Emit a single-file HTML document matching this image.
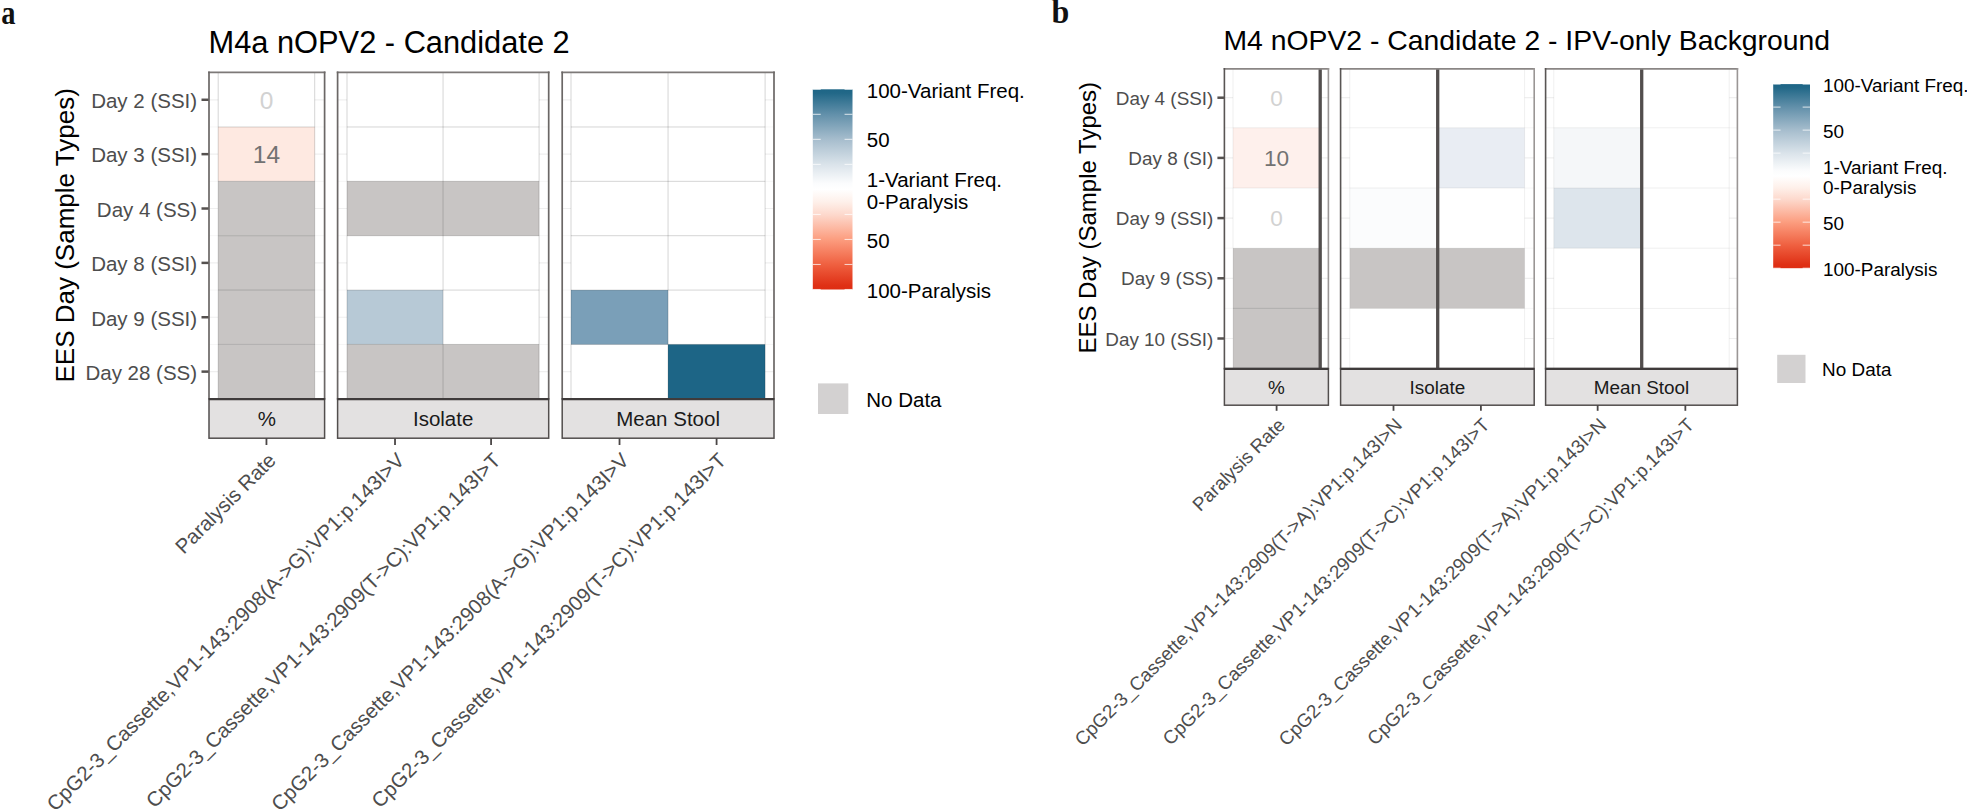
<!DOCTYPE html>
<html lang="en">
<head>
<meta charset="utf-8">
<title>nOPV2 Candidate 2 heatmaps</title>
<style>
html,body{margin:0;padding:0;background:#fff;}
body{width:1967px;height:812px;overflow:hidden;}
svg{display:block;}
svg text{font-family:'Liberation Sans', Arial, sans-serif;}
</style>
</head>
<body>
<svg width="1967" height="812" viewBox="0 0 1967 812">
<rect width="1967" height="812" fill="#ffffff"/>
<text transform="translate(1.3,24.2) scale(0.89,1.03)" style="font-family:'Liberation Serif', 'Times New Roman', serif;font-weight:bold" font-size="32" fill="#111">a</text>
<text transform="translate(1051.6,23.3) scale(1.0,1.07)" style="font-family:'Liberation Serif', 'Times New Roman', serif;font-weight:bold" font-size="32" fill="#111">b</text>
<text x="208.5" y="53.1" font-size="30.8" fill="#000">M4a nOPV2 - Candidate 2</text>
<text transform="translate(74.2,235.35000000000002) rotate(-90)" text-anchor="middle" font-size="26.0" fill="#000">EES Day (Sample Types)</text>
<text x="197.1" y="108.06" text-anchor="end" font-size="20.5" fill="#4d4d4d">Day 2 (SSI)</text>
<line x1="201.5" x2="209" y1="99.78" y2="99.78" stroke="#55514f" stroke-width="2.5"/>
<text x="197.1" y="162.43" text-anchor="end" font-size="20.5" fill="#4d4d4d">Day 3 (SSI)</text>
<line x1="201.5" x2="209" y1="154.15" y2="154.15" stroke="#55514f" stroke-width="2.5"/>
<text x="197.1" y="216.79" text-anchor="end" font-size="20.5" fill="#4d4d4d">Day 4 (SS)</text>
<line x1="201.5" x2="209" y1="208.52" y2="208.52" stroke="#55514f" stroke-width="2.5"/>
<text x="197.1" y="271.16" text-anchor="end" font-size="20.5" fill="#4d4d4d">Day 8 (SSI)</text>
<line x1="201.5" x2="209" y1="262.88" y2="262.88" stroke="#55514f" stroke-width="2.5"/>
<text x="197.1" y="325.53" text-anchor="end" font-size="20.5" fill="#4d4d4d">Day 9 (SSI)</text>
<line x1="201.5" x2="209" y1="317.25" y2="317.25" stroke="#55514f" stroke-width="2.5"/>
<text x="197.1" y="379.89" text-anchor="end" font-size="20.5" fill="#4d4d4d">Day 28 (SS)</text>
<line x1="201.5" x2="209" y1="371.62" y2="371.62" stroke="#55514f" stroke-width="2.5"/>
<rect x="209" y="72.3" width="115.60000000000002" height="326.5" fill="#fff"/>
<line x1="209" x2="324.6" y1="99.78" y2="99.78" stroke="#efefef" stroke-width="1.2"/>
<line x1="209" x2="324.6" y1="154.15" y2="154.15" stroke="#efefef" stroke-width="1.2"/>
<line x1="209" x2="324.6" y1="208.52" y2="208.52" stroke="#efefef" stroke-width="1.2"/>
<line x1="209" x2="324.6" y1="262.88" y2="262.88" stroke="#efefef" stroke-width="1.2"/>
<line x1="209" x2="324.6" y1="317.25" y2="317.25" stroke="#efefef" stroke-width="1.2"/>
<line x1="209" x2="324.6" y1="371.62" y2="371.62" stroke="#efefef" stroke-width="1.2"/>
<line x1="209" x2="324.6" y1="126.97" y2="126.97" stroke="#f6f6f6" stroke-width="1"/>
<line x1="209" x2="324.6" y1="181.33" y2="181.33" stroke="#f6f6f6" stroke-width="1"/>
<line x1="209" x2="324.6" y1="235.70" y2="235.70" stroke="#f6f6f6" stroke-width="1"/>
<line x1="209" x2="324.6" y1="290.07" y2="290.07" stroke="#f6f6f6" stroke-width="1"/>
<line x1="209" x2="324.6" y1="344.43" y2="344.43" stroke="#f6f6f6" stroke-width="1"/>
<rect x="218.2" y="72.3" width="96.5" height="326.5" fill="#fff"/>
<rect x="218.20" y="126.97" width="96.50" height="54.37" fill="#fee9e1" stroke="none" stroke-width="1"/>
<rect x="218.20" y="181.33" width="96.50" height="54.37" fill="#c8c5c4" stroke="none" stroke-width="1"/>
<rect x="218.20" y="235.70" width="96.50" height="54.37" fill="#c8c5c4" stroke="none" stroke-width="1"/>
<rect x="218.20" y="290.07" width="96.50" height="54.37" fill="#c8c5c4" stroke="none" stroke-width="1"/>
<rect x="218.20" y="344.43" width="96.50" height="54.37" fill="#c8c5c4" stroke="none" stroke-width="1"/>
<line x1="218.2" x2="314.7" y1="126.97" y2="126.97" stroke="#000" stroke-opacity="0.19" stroke-width="0.9"/>
<line x1="218.2" x2="314.7" y1="181.33" y2="181.33" stroke="#000" stroke-opacity="0.19" stroke-width="0.9"/>
<line x1="218.2" x2="314.7" y1="235.70" y2="235.70" stroke="#000" stroke-opacity="0.19" stroke-width="0.9"/>
<line x1="218.2" x2="314.7" y1="290.07" y2="290.07" stroke="#000" stroke-opacity="0.19" stroke-width="0.9"/>
<line x1="218.2" x2="314.7" y1="344.43" y2="344.43" stroke="#000" stroke-opacity="0.19" stroke-width="0.9"/>
<line x1="218.20" x2="218.20" y1="72.3" y2="398.8" stroke="#000" stroke-opacity="0.19" stroke-width="0.9"/>
<line x1="314.70" x2="314.70" y1="72.3" y2="398.8" stroke="#000" stroke-opacity="0.19" stroke-width="0.9"/>
<text x="266.45" y="108.60" text-anchor="middle" font-size="24.5" fill="#d2d2d2">0</text>
<text x="266.45" y="162.97" text-anchor="middle" font-size="24.5" fill="#727272">14</text>
<line x1="209" x2="324.6" y1="72.3" y2="72.3" stroke="#7d7978" stroke-width="1.7" stroke-linecap="square"/>
<line x1="324.6" x2="324.6" y1="72.3" y2="398.8" stroke="#6b6766" stroke-width="1.7" stroke-linecap="square"/>
<line x1="209" x2="209" y1="72.3" y2="398.8" stroke="#6b6766" stroke-width="1.7" stroke-linecap="square"/>
<rect x="209" y="398.8" width="115.60000000000002" height="39.39999999999998" fill="#e3e1e1" stroke="#524e4d" stroke-width="1.5"/>
<line x1="209" x2="324.6" y1="399.1" y2="399.1" stroke="#3f3b3b" stroke-width="2.4"/>
<text x="266.8" y="425.78" text-anchor="middle" font-size="20.5" fill="#1a1a1a">%</text>
<line x1="266.45" x2="266.45" y1="438.2" y2="445.0" stroke="#4a4646" stroke-width="1.8"/>
<text transform="translate(277.15,461.60) rotate(-45)" text-anchor="end" font-size="20.5" fill="#4d4d4d">Paralysis Rate</text>
<rect x="337.6" y="72.3" width="211.10000000000002" height="326.5" fill="#fff"/>
<line x1="337.6" x2="548.7" y1="99.78" y2="99.78" stroke="#efefef" stroke-width="1.2"/>
<line x1="337.6" x2="548.7" y1="154.15" y2="154.15" stroke="#efefef" stroke-width="1.2"/>
<line x1="337.6" x2="548.7" y1="208.52" y2="208.52" stroke="#efefef" stroke-width="1.2"/>
<line x1="337.6" x2="548.7" y1="262.88" y2="262.88" stroke="#efefef" stroke-width="1.2"/>
<line x1="337.6" x2="548.7" y1="317.25" y2="317.25" stroke="#efefef" stroke-width="1.2"/>
<line x1="337.6" x2="548.7" y1="371.62" y2="371.62" stroke="#efefef" stroke-width="1.2"/>
<line x1="337.6" x2="548.7" y1="126.97" y2="126.97" stroke="#f6f6f6" stroke-width="1"/>
<line x1="337.6" x2="548.7" y1="181.33" y2="181.33" stroke="#f6f6f6" stroke-width="1"/>
<line x1="337.6" x2="548.7" y1="235.70" y2="235.70" stroke="#f6f6f6" stroke-width="1"/>
<line x1="337.6" x2="548.7" y1="290.07" y2="290.07" stroke="#f6f6f6" stroke-width="1"/>
<line x1="337.6" x2="548.7" y1="344.43" y2="344.43" stroke="#f6f6f6" stroke-width="1"/>
<rect x="347" y="72.3" width="192.10000000000002" height="326.5" fill="#fff"/>
<rect x="347.00" y="181.33" width="96.05" height="54.37" fill="#c8c5c4" stroke="none" stroke-width="1"/>
<rect x="443.05" y="181.33" width="96.05" height="54.37" fill="#c8c5c4" stroke="none" stroke-width="1"/>
<rect x="347.00" y="290.07" width="96.05" height="54.37" fill="#b7c9d6" stroke="none" stroke-width="1"/>
<rect x="347.00" y="344.43" width="96.05" height="54.37" fill="#c8c5c4" stroke="none" stroke-width="1"/>
<rect x="443.05" y="344.43" width="96.05" height="54.37" fill="#c8c5c4" stroke="none" stroke-width="1"/>
<line x1="347" x2="539.1" y1="126.97" y2="126.97" stroke="#000" stroke-opacity="0.19" stroke-width="0.9"/>
<line x1="347" x2="539.1" y1="181.33" y2="181.33" stroke="#000" stroke-opacity="0.19" stroke-width="0.9"/>
<line x1="347" x2="539.1" y1="235.70" y2="235.70" stroke="#000" stroke-opacity="0.19" stroke-width="0.9"/>
<line x1="347" x2="539.1" y1="290.07" y2="290.07" stroke="#000" stroke-opacity="0.19" stroke-width="0.9"/>
<line x1="347" x2="539.1" y1="344.43" y2="344.43" stroke="#000" stroke-opacity="0.19" stroke-width="0.9"/>
<line x1="347.00" x2="347.00" y1="72.3" y2="398.8" stroke="#000" stroke-opacity="0.19" stroke-width="0.9"/>
<line x1="443.05" x2="443.05" y1="72.3" y2="398.8" stroke="#000" stroke-opacity="0.19" stroke-width="0.9"/>
<line x1="539.10" x2="539.10" y1="72.3" y2="398.8" stroke="#000" stroke-opacity="0.19" stroke-width="0.9"/>
<line x1="337.6" x2="548.7" y1="72.3" y2="72.3" stroke="#7d7978" stroke-width="1.7" stroke-linecap="square"/>
<line x1="548.7" x2="548.7" y1="72.3" y2="398.8" stroke="#6b6766" stroke-width="1.7" stroke-linecap="square"/>
<line x1="337.6" x2="337.6" y1="72.3" y2="398.8" stroke="#6b6766" stroke-width="1.7" stroke-linecap="square"/>
<rect x="337.6" y="398.8" width="211.10000000000002" height="39.39999999999998" fill="#e3e1e1" stroke="#524e4d" stroke-width="1.5"/>
<line x1="337.6" x2="548.7" y1="399.1" y2="399.1" stroke="#3f3b3b" stroke-width="2.4"/>
<text x="443.15000000000003" y="425.78" text-anchor="middle" font-size="20.5" fill="#1a1a1a">Isolate</text>
<line x1="395.02" x2="395.02" y1="438.2" y2="445.0" stroke="#4a4646" stroke-width="1.8"/>
<text transform="translate(405.72,461.60) rotate(-45)" text-anchor="end" font-size="20.5" fill="#4d4d4d">CpG2-3_Cassette,VP1-143:2908(A-&gt;G):VP1:p.143I&gt;V</text>
<line x1="491.08" x2="491.08" y1="438.2" y2="445.0" stroke="#4a4646" stroke-width="1.8"/>
<text transform="translate(501.78,461.60) rotate(-45)" text-anchor="end" font-size="20.5" fill="#4d4d4d">CpG2-3_Cassette,VP1-143:2909(T-&gt;C):VP1:p.143I&gt;T</text>
<rect x="562.2" y="72.3" width="211.79999999999995" height="326.5" fill="#fff"/>
<line x1="562.2" x2="774" y1="99.78" y2="99.78" stroke="#efefef" stroke-width="1.2"/>
<line x1="562.2" x2="774" y1="154.15" y2="154.15" stroke="#efefef" stroke-width="1.2"/>
<line x1="562.2" x2="774" y1="208.52" y2="208.52" stroke="#efefef" stroke-width="1.2"/>
<line x1="562.2" x2="774" y1="262.88" y2="262.88" stroke="#efefef" stroke-width="1.2"/>
<line x1="562.2" x2="774" y1="317.25" y2="317.25" stroke="#efefef" stroke-width="1.2"/>
<line x1="562.2" x2="774" y1="371.62" y2="371.62" stroke="#efefef" stroke-width="1.2"/>
<line x1="562.2" x2="774" y1="126.97" y2="126.97" stroke="#f6f6f6" stroke-width="1"/>
<line x1="562.2" x2="774" y1="181.33" y2="181.33" stroke="#f6f6f6" stroke-width="1"/>
<line x1="562.2" x2="774" y1="235.70" y2="235.70" stroke="#f6f6f6" stroke-width="1"/>
<line x1="562.2" x2="774" y1="290.07" y2="290.07" stroke="#f6f6f6" stroke-width="1"/>
<line x1="562.2" x2="774" y1="344.43" y2="344.43" stroke="#f6f6f6" stroke-width="1"/>
<rect x="571" y="72.3" width="194.10000000000002" height="326.5" fill="#fff"/>
<rect x="571.00" y="290.07" width="97.05" height="54.37" fill="#7a9fb8" stroke="none" stroke-width="1"/>
<rect x="668.05" y="344.43" width="97.05" height="54.37" fill="#1d6586" stroke="none" stroke-width="1"/>
<line x1="571" x2="765.1" y1="126.97" y2="126.97" stroke="#000" stroke-opacity="0.19" stroke-width="0.9"/>
<line x1="571" x2="765.1" y1="181.33" y2="181.33" stroke="#000" stroke-opacity="0.19" stroke-width="0.9"/>
<line x1="571" x2="765.1" y1="235.70" y2="235.70" stroke="#000" stroke-opacity="0.19" stroke-width="0.9"/>
<line x1="571" x2="765.1" y1="290.07" y2="290.07" stroke="#000" stroke-opacity="0.19" stroke-width="0.9"/>
<line x1="571" x2="765.1" y1="344.43" y2="344.43" stroke="#000" stroke-opacity="0.19" stroke-width="0.9"/>
<line x1="571.00" x2="571.00" y1="72.3" y2="398.8" stroke="#000" stroke-opacity="0.19" stroke-width="0.9"/>
<line x1="668.05" x2="668.05" y1="72.3" y2="398.8" stroke="#000" stroke-opacity="0.19" stroke-width="0.9"/>
<line x1="765.10" x2="765.10" y1="72.3" y2="398.8" stroke="#000" stroke-opacity="0.19" stroke-width="0.9"/>
<line x1="562.2" x2="774" y1="72.3" y2="72.3" stroke="#7d7978" stroke-width="1.7" stroke-linecap="square"/>
<line x1="774" x2="774" y1="72.3" y2="398.8" stroke="#6b6766" stroke-width="1.7" stroke-linecap="square"/>
<line x1="562.2" x2="562.2" y1="72.3" y2="398.8" stroke="#6b6766" stroke-width="1.7" stroke-linecap="square"/>
<rect x="562.2" y="398.8" width="211.79999999999995" height="39.39999999999998" fill="#e3e1e1" stroke="#524e4d" stroke-width="1.5"/>
<line x1="562.2" x2="774" y1="399.1" y2="399.1" stroke="#3f3b3b" stroke-width="2.4"/>
<text x="668.1" y="425.78" text-anchor="middle" font-size="20.5" fill="#1a1a1a">Mean Stool</text>
<line x1="619.52" x2="619.52" y1="438.2" y2="445.0" stroke="#4a4646" stroke-width="1.8"/>
<text transform="translate(630.23,461.60) rotate(-45)" text-anchor="end" font-size="20.5" fill="#4d4d4d">CpG2-3_Cassette,VP1-143:2908(A-&gt;G):VP1:p.143I&gt;V</text>
<line x1="716.58" x2="716.58" y1="438.2" y2="445.0" stroke="#4a4646" stroke-width="1.8"/>
<text transform="translate(727.28,461.60) rotate(-45)" text-anchor="end" font-size="20.5" fill="#4d4d4d">CpG2-3_Cassette,VP1-143:2909(T-&gt;C):VP1:p.143I&gt;T</text>
<defs><linearGradient id="ga" x1="0" y1="0" x2="0" y2="1"><stop offset="0" stop-color="#1d6586"/><stop offset="0.02" stop-color="#226888"/><stop offset="0.125" stop-color="#6290aa"/><stop offset="0.25" stop-color="#a6bdcd"/><stop offset="0.375" stop-color="#dae3ea"/><stop offset="0.47" stop-color="#fbfcfd"/><stop offset="0.5" stop-color="#ffffff"/><stop offset="0.5625" stop-color="#fef0ea"/><stop offset="0.625" stop-color="#fdd9cd"/><stop offset="0.75" stop-color="#fc9d7f"/><stop offset="0.875" stop-color="#ef6040"/><stop offset="0.98" stop-color="#df3015"/><stop offset="1" stop-color="#de2d12"/></linearGradient></defs>
<rect x="812.8" y="89.3" width="39.700000000000045" height="200.2" fill="url(#ga)"/>
<line x1="812.8" x2="820.74" y1="89.30" y2="89.30" stroke="#fff" stroke-opacity="0.7" stroke-width="1.1"/>
<line x1="844.56" x2="852.5" y1="89.30" y2="89.30" stroke="#fff" stroke-opacity="0.7" stroke-width="1.1"/>
<line x1="812.8" x2="820.74" y1="114.32" y2="114.32" stroke="#fff" stroke-opacity="0.7" stroke-width="1.1"/>
<line x1="844.56" x2="852.5" y1="114.32" y2="114.32" stroke="#fff" stroke-opacity="0.7" stroke-width="1.1"/>
<line x1="812.8" x2="820.74" y1="139.35" y2="139.35" stroke="#fff" stroke-opacity="0.7" stroke-width="1.1"/>
<line x1="844.56" x2="852.5" y1="139.35" y2="139.35" stroke="#fff" stroke-opacity="0.7" stroke-width="1.1"/>
<line x1="812.8" x2="820.74" y1="164.38" y2="164.38" stroke="#fff" stroke-opacity="0.7" stroke-width="1.1"/>
<line x1="844.56" x2="852.5" y1="164.38" y2="164.38" stroke="#fff" stroke-opacity="0.7" stroke-width="1.1"/>
<line x1="812.8" x2="820.74" y1="189.40" y2="189.40" stroke="#fff" stroke-opacity="0.7" stroke-width="1.1"/>
<line x1="844.56" x2="852.5" y1="189.40" y2="189.40" stroke="#fff" stroke-opacity="0.7" stroke-width="1.1"/>
<line x1="812.8" x2="820.74" y1="214.43" y2="214.43" stroke="#fff" stroke-opacity="0.7" stroke-width="1.1"/>
<line x1="844.56" x2="852.5" y1="214.43" y2="214.43" stroke="#fff" stroke-opacity="0.7" stroke-width="1.1"/>
<line x1="812.8" x2="820.74" y1="239.45" y2="239.45" stroke="#fff" stroke-opacity="0.7" stroke-width="1.1"/>
<line x1="844.56" x2="852.5" y1="239.45" y2="239.45" stroke="#fff" stroke-opacity="0.7" stroke-width="1.1"/>
<line x1="812.8" x2="820.74" y1="264.47" y2="264.47" stroke="#fff" stroke-opacity="0.7" stroke-width="1.1"/>
<line x1="844.56" x2="852.5" y1="264.47" y2="264.47" stroke="#fff" stroke-opacity="0.7" stroke-width="1.1"/>
<line x1="812.8" x2="820.74" y1="289.50" y2="289.50" stroke="#fff" stroke-opacity="0.7" stroke-width="1.1"/>
<line x1="844.56" x2="852.5" y1="289.50" y2="289.50" stroke="#fff" stroke-opacity="0.7" stroke-width="1.1"/>
<text x="866.8" y="98.08" font-size="20.5" fill="#000">100-Variant Freq.</text>
<text x="866.8" y="147.28" font-size="20.5" fill="#000">50</text>
<text x="866.8" y="186.78" font-size="20.5" fill="#000">1-Variant Freq.</text>
<text x="866.8" y="209.28" font-size="20.5" fill="#000">0-Paralysis</text>
<text x="866.8" y="248.08" font-size="20.5" fill="#000">50</text>
<text x="866.8" y="298.28" font-size="20.5" fill="#000">100-Paralysis</text>
<rect x="818" y="383.4" width="30.299999999999955" height="30.600000000000023" fill="#d3d1d1"/>
<text x="866.3" y="407.08" font-size="20.5" fill="#000">No Data</text>
<text x="1223.5" y="50.3" font-size="28.35" fill="#000">M4 nOPV2 - Candidate 2 - IPV-only Background</text>
<text transform="translate(1095.6,217.75) rotate(-90)" text-anchor="middle" font-size="24.0" fill="#000">EES Day (Sample Types)</text>
<text x="1213.4" y="104.81" text-anchor="end" font-size="18.9" fill="#4d4d4d">Day 4 (SSI)</text>
<line x1="1217.4" x2="1224.4" y1="97.70" y2="97.70" stroke="#55514f" stroke-width="2.5"/>
<text x="1213.4" y="165.01" text-anchor="end" font-size="18.9" fill="#4d4d4d">Day 8 (SI)</text>
<line x1="1217.4" x2="1224.4" y1="157.90" y2="157.90" stroke="#55514f" stroke-width="2.5"/>
<text x="1213.4" y="225.21" text-anchor="end" font-size="18.9" fill="#4d4d4d">Day 9 (SSI)</text>
<line x1="1217.4" x2="1224.4" y1="218.10" y2="218.10" stroke="#55514f" stroke-width="2.5"/>
<text x="1213.4" y="285.41" text-anchor="end" font-size="18.9" fill="#4d4d4d">Day 9 (SS)</text>
<line x1="1217.4" x2="1224.4" y1="278.30" y2="278.30" stroke="#55514f" stroke-width="2.5"/>
<text x="1213.4" y="345.61" text-anchor="end" font-size="18.9" fill="#4d4d4d">Day 10 (SSI)</text>
<line x1="1217.4" x2="1224.4" y1="338.50" y2="338.50" stroke="#55514f" stroke-width="2.5"/>
<rect x="1224.4" y="68.9" width="104.0" height="299.70000000000005" fill="#fff"/>
<line x1="1224.4" x2="1328.4" y1="97.70" y2="97.70" stroke="#efefef" stroke-width="1.2"/>
<line x1="1224.4" x2="1328.4" y1="157.90" y2="157.90" stroke="#efefef" stroke-width="1.2"/>
<line x1="1224.4" x2="1328.4" y1="218.10" y2="218.10" stroke="#efefef" stroke-width="1.2"/>
<line x1="1224.4" x2="1328.4" y1="278.30" y2="278.30" stroke="#efefef" stroke-width="1.2"/>
<line x1="1224.4" x2="1328.4" y1="338.50" y2="338.50" stroke="#efefef" stroke-width="1.2"/>
<line x1="1224.4" x2="1328.4" y1="127.80" y2="127.80" stroke="#f6f6f6" stroke-width="1"/>
<line x1="1224.4" x2="1328.4" y1="188.00" y2="188.00" stroke="#f6f6f6" stroke-width="1"/>
<line x1="1224.4" x2="1328.4" y1="248.20" y2="248.20" stroke="#f6f6f6" stroke-width="1"/>
<line x1="1224.4" x2="1328.4" y1="308.40" y2="308.40" stroke="#f6f6f6" stroke-width="1"/>
<rect x="1233" y="68.9" width="87.20000000000005" height="299.70000000000005" fill="#fff"/>
<rect x="1233.00" y="127.80" width="87.20" height="60.20" fill="#fef0ec" stroke="none" stroke-width="1"/>
<rect x="1233.00" y="248.20" width="87.20" height="60.20" fill="#c8c5c4" stroke="none" stroke-width="1"/>
<rect x="1233.00" y="308.40" width="87.20" height="60.20" fill="#c8c5c4" stroke="none" stroke-width="1"/>
<line x1="1233" x2="1320.2" y1="127.80" y2="127.80" stroke="#000" stroke-opacity="0.07" stroke-width="0.9"/>
<line x1="1233" x2="1320.2" y1="188.00" y2="188.00" stroke="#000" stroke-opacity="0.07" stroke-width="0.9"/>
<line x1="1233" x2="1320.2" y1="248.20" y2="248.20" stroke="#000" stroke-opacity="0.07" stroke-width="0.9"/>
<line x1="1233" x2="1320.2" y1="308.40" y2="308.40" stroke="#000" stroke-opacity="0.07" stroke-width="0.9"/>
<line x1="1233.00" x2="1233.00" y1="68.9" y2="368.6" stroke="#000" stroke-opacity="0.07" stroke-width="0.9"/>
<line x1="1320.20" x2="1320.20" y1="68.9" y2="368.6" stroke="#000" stroke-opacity="0.07" stroke-width="0.9"/>
<line x1="1233.00" x2="1320.20" y1="308.40" y2="308.40" stroke="#000" stroke-opacity="0.12" stroke-width="1"/>
<text x="1276.60" y="105.84" text-anchor="middle" font-size="22.6" fill="#d2d2d2">0</text>
<text x="1276.60" y="166.04" text-anchor="middle" font-size="22.6" fill="#727272">10</text>
<text x="1276.60" y="226.24" text-anchor="middle" font-size="22.6" fill="#d2d2d2">0</text>
<line x1="1320.2" x2="1320.2" y1="68.9" y2="368.6" stroke="#524e4d" stroke-width="3.3"/>
<line x1="1224.4" x2="1328.4" y1="68.9" y2="68.9" stroke="#8a8685" stroke-width="1.6" stroke-linecap="square"/>
<line x1="1328.4" x2="1328.4" y1="68.9" y2="368.6" stroke="#9a9695" stroke-width="1.6" stroke-linecap="square"/>
<line x1="1224.4" x2="1224.4" y1="68.9" y2="368.6" stroke="#595554" stroke-width="1.6" stroke-linecap="square"/>
<rect x="1224.4" y="368.6" width="104.0" height="36.599999999999966" fill="#e3e1e1" stroke="#524e4d" stroke-width="1.5"/>
<line x1="1224.4" x2="1328.4" y1="368.90000000000003" y2="368.90000000000003" stroke="#3f3b3b" stroke-width="2.4"/>
<text x="1276.4" y="393.61" text-anchor="middle" font-size="18.9" fill="#1a1a1a">%</text>
<line x1="1276.60" x2="1276.60" y1="405.2" y2="410.8" stroke="#4a4646" stroke-width="1.8"/>
<text transform="translate(1286.30,426.20) rotate(-45)" text-anchor="end" font-size="18.9" fill="#4d4d4d">Paralysis Rate</text>
<rect x="1340.6" y="68.9" width="193.60000000000014" height="299.70000000000005" fill="#fff"/>
<line x1="1340.6" x2="1534.2" y1="97.70" y2="97.70" stroke="#efefef" stroke-width="1.2"/>
<line x1="1340.6" x2="1534.2" y1="157.90" y2="157.90" stroke="#efefef" stroke-width="1.2"/>
<line x1="1340.6" x2="1534.2" y1="218.10" y2="218.10" stroke="#efefef" stroke-width="1.2"/>
<line x1="1340.6" x2="1534.2" y1="278.30" y2="278.30" stroke="#efefef" stroke-width="1.2"/>
<line x1="1340.6" x2="1534.2" y1="338.50" y2="338.50" stroke="#efefef" stroke-width="1.2"/>
<line x1="1340.6" x2="1534.2" y1="127.80" y2="127.80" stroke="#f6f6f6" stroke-width="1"/>
<line x1="1340.6" x2="1534.2" y1="188.00" y2="188.00" stroke="#f6f6f6" stroke-width="1"/>
<line x1="1340.6" x2="1534.2" y1="248.20" y2="248.20" stroke="#f6f6f6" stroke-width="1"/>
<line x1="1340.6" x2="1534.2" y1="308.40" y2="308.40" stroke="#f6f6f6" stroke-width="1"/>
<rect x="1349.8" y="68.9" width="174.79999999999995" height="299.70000000000005" fill="#fff"/>
<rect x="1437.20" y="127.80" width="87.40" height="60.20" fill="#e9edf3" stroke="none" stroke-width="1"/>
<rect x="1349.80" y="188.00" width="87.40" height="60.20" fill="#fbfcfd" stroke="none" stroke-width="1"/>
<rect x="1349.80" y="248.20" width="87.40" height="60.20" fill="#c8c5c4" stroke="none" stroke-width="1"/>
<rect x="1437.20" y="248.20" width="87.40" height="60.20" fill="#c8c5c4" stroke="none" stroke-width="1"/>
<line x1="1349.8" x2="1524.6" y1="127.80" y2="127.80" stroke="#000" stroke-opacity="0.07" stroke-width="0.9"/>
<line x1="1349.8" x2="1524.6" y1="188.00" y2="188.00" stroke="#000" stroke-opacity="0.07" stroke-width="0.9"/>
<line x1="1349.8" x2="1524.6" y1="248.20" y2="248.20" stroke="#000" stroke-opacity="0.07" stroke-width="0.9"/>
<line x1="1349.8" x2="1524.6" y1="308.40" y2="308.40" stroke="#000" stroke-opacity="0.07" stroke-width="0.9"/>
<line x1="1349.80" x2="1349.80" y1="68.9" y2="368.6" stroke="#000" stroke-opacity="0.07" stroke-width="0.9"/>
<line x1="1437.20" x2="1437.20" y1="68.9" y2="368.6" stroke="#000" stroke-opacity="0.07" stroke-width="0.9"/>
<line x1="1524.60" x2="1524.60" y1="68.9" y2="368.6" stroke="#000" stroke-opacity="0.07" stroke-width="0.9"/>
<line x1="1437.7" x2="1437.7" y1="68.9" y2="368.6" stroke="#524e4d" stroke-width="3.3"/>
<line x1="1340.6" x2="1534.2" y1="68.9" y2="68.9" stroke="#8a8685" stroke-width="1.6" stroke-linecap="square"/>
<line x1="1534.2" x2="1534.2" y1="68.9" y2="368.6" stroke="#9a9695" stroke-width="1.6" stroke-linecap="square"/>
<line x1="1340.6" x2="1340.6" y1="68.9" y2="368.6" stroke="#595554" stroke-width="1.6" stroke-linecap="square"/>
<rect x="1340.6" y="368.6" width="193.60000000000014" height="36.599999999999966" fill="#e3e1e1" stroke="#524e4d" stroke-width="1.5"/>
<line x1="1340.6" x2="1534.2" y1="368.90000000000003" y2="368.90000000000003" stroke="#3f3b3b" stroke-width="2.4"/>
<text x="1437.4" y="393.61" text-anchor="middle" font-size="18.9" fill="#1a1a1a">Isolate</text>
<line x1="1393.50" x2="1393.50" y1="405.2" y2="410.8" stroke="#4a4646" stroke-width="1.8"/>
<text transform="translate(1403.20,426.20) rotate(-45)" text-anchor="end" font-size="18.9" fill="#4d4d4d">CpG2-3_Cassette,VP1-143:2909(T-&gt;A):VP1:p.143I&gt;N</text>
<line x1="1480.90" x2="1480.90" y1="405.2" y2="410.8" stroke="#4a4646" stroke-width="1.8"/>
<text transform="translate(1490.60,426.20) rotate(-45)" text-anchor="end" font-size="18.9" fill="#4d4d4d">CpG2-3_Cassette,VP1-143:2909(T-&gt;C):VP1:p.143I&gt;T</text>
<rect x="1545.6" y="68.9" width="191.80000000000018" height="299.70000000000005" fill="#fff"/>
<line x1="1545.6" x2="1737.4" y1="97.70" y2="97.70" stroke="#efefef" stroke-width="1.2"/>
<line x1="1545.6" x2="1737.4" y1="157.90" y2="157.90" stroke="#efefef" stroke-width="1.2"/>
<line x1="1545.6" x2="1737.4" y1="218.10" y2="218.10" stroke="#efefef" stroke-width="1.2"/>
<line x1="1545.6" x2="1737.4" y1="278.30" y2="278.30" stroke="#efefef" stroke-width="1.2"/>
<line x1="1545.6" x2="1737.4" y1="338.50" y2="338.50" stroke="#efefef" stroke-width="1.2"/>
<line x1="1545.6" x2="1737.4" y1="127.80" y2="127.80" stroke="#f6f6f6" stroke-width="1"/>
<line x1="1545.6" x2="1737.4" y1="188.00" y2="188.00" stroke="#f6f6f6" stroke-width="1"/>
<line x1="1545.6" x2="1737.4" y1="248.20" y2="248.20" stroke="#f6f6f6" stroke-width="1"/>
<line x1="1545.6" x2="1737.4" y1="308.40" y2="308.40" stroke="#f6f6f6" stroke-width="1"/>
<rect x="1553.8" y="68.9" width="175.4000000000001" height="299.70000000000005" fill="#fff"/>
<rect x="1553.80" y="127.80" width="87.70" height="60.20" fill="#f5f7f9" stroke="none" stroke-width="1"/>
<rect x="1553.80" y="188.00" width="87.70" height="60.20" fill="#dde5ec" stroke="none" stroke-width="1"/>
<line x1="1553.8" x2="1729.2" y1="127.80" y2="127.80" stroke="#000" stroke-opacity="0.07" stroke-width="0.9"/>
<line x1="1553.8" x2="1729.2" y1="188.00" y2="188.00" stroke="#000" stroke-opacity="0.07" stroke-width="0.9"/>
<line x1="1553.8" x2="1729.2" y1="248.20" y2="248.20" stroke="#000" stroke-opacity="0.07" stroke-width="0.9"/>
<line x1="1553.8" x2="1729.2" y1="308.40" y2="308.40" stroke="#000" stroke-opacity="0.07" stroke-width="0.9"/>
<line x1="1553.80" x2="1553.80" y1="68.9" y2="368.6" stroke="#000" stroke-opacity="0.07" stroke-width="0.9"/>
<line x1="1641.50" x2="1641.50" y1="68.9" y2="368.6" stroke="#000" stroke-opacity="0.07" stroke-width="0.9"/>
<line x1="1729.20" x2="1729.20" y1="68.9" y2="368.6" stroke="#000" stroke-opacity="0.07" stroke-width="0.9"/>
<line x1="1641.7" x2="1641.7" y1="68.9" y2="368.6" stroke="#524e4d" stroke-width="3.3"/>
<line x1="1545.6" x2="1737.4" y1="68.9" y2="68.9" stroke="#8a8685" stroke-width="1.6" stroke-linecap="square"/>
<line x1="1737.4" x2="1737.4" y1="68.9" y2="368.6" stroke="#9a9695" stroke-width="1.6" stroke-linecap="square"/>
<line x1="1545.6" x2="1545.6" y1="68.9" y2="368.6" stroke="#595554" stroke-width="1.6" stroke-linecap="square"/>
<rect x="1545.6" y="368.6" width="191.80000000000018" height="36.599999999999966" fill="#e3e1e1" stroke="#524e4d" stroke-width="1.5"/>
<line x1="1545.6" x2="1737.4" y1="368.90000000000003" y2="368.90000000000003" stroke="#3f3b3b" stroke-width="2.4"/>
<text x="1641.5" y="393.61" text-anchor="middle" font-size="18.9" fill="#1a1a1a">Mean Stool</text>
<line x1="1597.65" x2="1597.65" y1="405.2" y2="410.8" stroke="#4a4646" stroke-width="1.8"/>
<text transform="translate(1607.35,426.20) rotate(-45)" text-anchor="end" font-size="18.9" fill="#4d4d4d">CpG2-3_Cassette,VP1-143:2909(T-&gt;A):VP1:p.143I&gt;N</text>
<line x1="1685.35" x2="1685.35" y1="405.2" y2="410.8" stroke="#4a4646" stroke-width="1.8"/>
<text transform="translate(1695.05,426.20) rotate(-45)" text-anchor="end" font-size="18.9" fill="#4d4d4d">CpG2-3_Cassette,VP1-143:2909(T-&gt;C):VP1:p.143I&gt;T</text>
<defs><linearGradient id="gb" x1="0" y1="0" x2="0" y2="1"><stop offset="0" stop-color="#1d6586"/><stop offset="0.02" stop-color="#226888"/><stop offset="0.125" stop-color="#6290aa"/><stop offset="0.25" stop-color="#a6bdcd"/><stop offset="0.375" stop-color="#dae3ea"/><stop offset="0.47" stop-color="#fbfcfd"/><stop offset="0.5" stop-color="#ffffff"/><stop offset="0.5625" stop-color="#fef0ea"/><stop offset="0.625" stop-color="#fdd9cd"/><stop offset="0.75" stop-color="#fc9d7f"/><stop offset="0.875" stop-color="#ef6040"/><stop offset="0.98" stop-color="#df3015"/><stop offset="1" stop-color="#de2d12"/></linearGradient></defs>
<rect x="1773.2" y="84.1" width="36.799999999999955" height="184.1" fill="url(#gb)"/>
<line x1="1773.2" x2="1780.56" y1="84.10" y2="84.10" stroke="#fff" stroke-opacity="0.7" stroke-width="1.1"/>
<line x1="1802.64" x2="1810" y1="84.10" y2="84.10" stroke="#fff" stroke-opacity="0.7" stroke-width="1.1"/>
<line x1="1773.2" x2="1780.56" y1="107.11" y2="107.11" stroke="#fff" stroke-opacity="0.7" stroke-width="1.1"/>
<line x1="1802.64" x2="1810" y1="107.11" y2="107.11" stroke="#fff" stroke-opacity="0.7" stroke-width="1.1"/>
<line x1="1773.2" x2="1780.56" y1="130.12" y2="130.12" stroke="#fff" stroke-opacity="0.7" stroke-width="1.1"/>
<line x1="1802.64" x2="1810" y1="130.12" y2="130.12" stroke="#fff" stroke-opacity="0.7" stroke-width="1.1"/>
<line x1="1773.2" x2="1780.56" y1="153.14" y2="153.14" stroke="#fff" stroke-opacity="0.7" stroke-width="1.1"/>
<line x1="1802.64" x2="1810" y1="153.14" y2="153.14" stroke="#fff" stroke-opacity="0.7" stroke-width="1.1"/>
<line x1="1773.2" x2="1780.56" y1="176.15" y2="176.15" stroke="#fff" stroke-opacity="0.7" stroke-width="1.1"/>
<line x1="1802.64" x2="1810" y1="176.15" y2="176.15" stroke="#fff" stroke-opacity="0.7" stroke-width="1.1"/>
<line x1="1773.2" x2="1780.56" y1="199.16" y2="199.16" stroke="#fff" stroke-opacity="0.7" stroke-width="1.1"/>
<line x1="1802.64" x2="1810" y1="199.16" y2="199.16" stroke="#fff" stroke-opacity="0.7" stroke-width="1.1"/>
<line x1="1773.2" x2="1780.56" y1="222.17" y2="222.17" stroke="#fff" stroke-opacity="0.7" stroke-width="1.1"/>
<line x1="1802.64" x2="1810" y1="222.17" y2="222.17" stroke="#fff" stroke-opacity="0.7" stroke-width="1.1"/>
<line x1="1773.2" x2="1780.56" y1="245.19" y2="245.19" stroke="#fff" stroke-opacity="0.7" stroke-width="1.1"/>
<line x1="1802.64" x2="1810" y1="245.19" y2="245.19" stroke="#fff" stroke-opacity="0.7" stroke-width="1.1"/>
<line x1="1773.2" x2="1780.56" y1="268.20" y2="268.20" stroke="#fff" stroke-opacity="0.7" stroke-width="1.1"/>
<line x1="1802.64" x2="1810" y1="268.20" y2="268.20" stroke="#fff" stroke-opacity="0.7" stroke-width="1.1"/>
<text x="1823" y="92.21" font-size="18.9" fill="#000">100-Variant Freq.</text>
<text x="1823" y="137.51" font-size="18.9" fill="#000">50</text>
<text x="1823" y="174.31" font-size="18.9" fill="#000">1-Variant Freq.</text>
<text x="1823" y="194.21" font-size="18.9" fill="#000">0-Paralysis</text>
<text x="1823" y="230.41" font-size="18.9" fill="#000">50</text>
<text x="1823" y="276.31" font-size="18.9" fill="#000">100-Paralysis</text>
<rect x="1777.2" y="354.8" width="28.299999999999955" height="28.19999999999999" fill="#d3d1d1"/>
<text x="1822.1" y="376.01" font-size="18.9" fill="#000">No Data</text>
</svg>
</body>
</html>
